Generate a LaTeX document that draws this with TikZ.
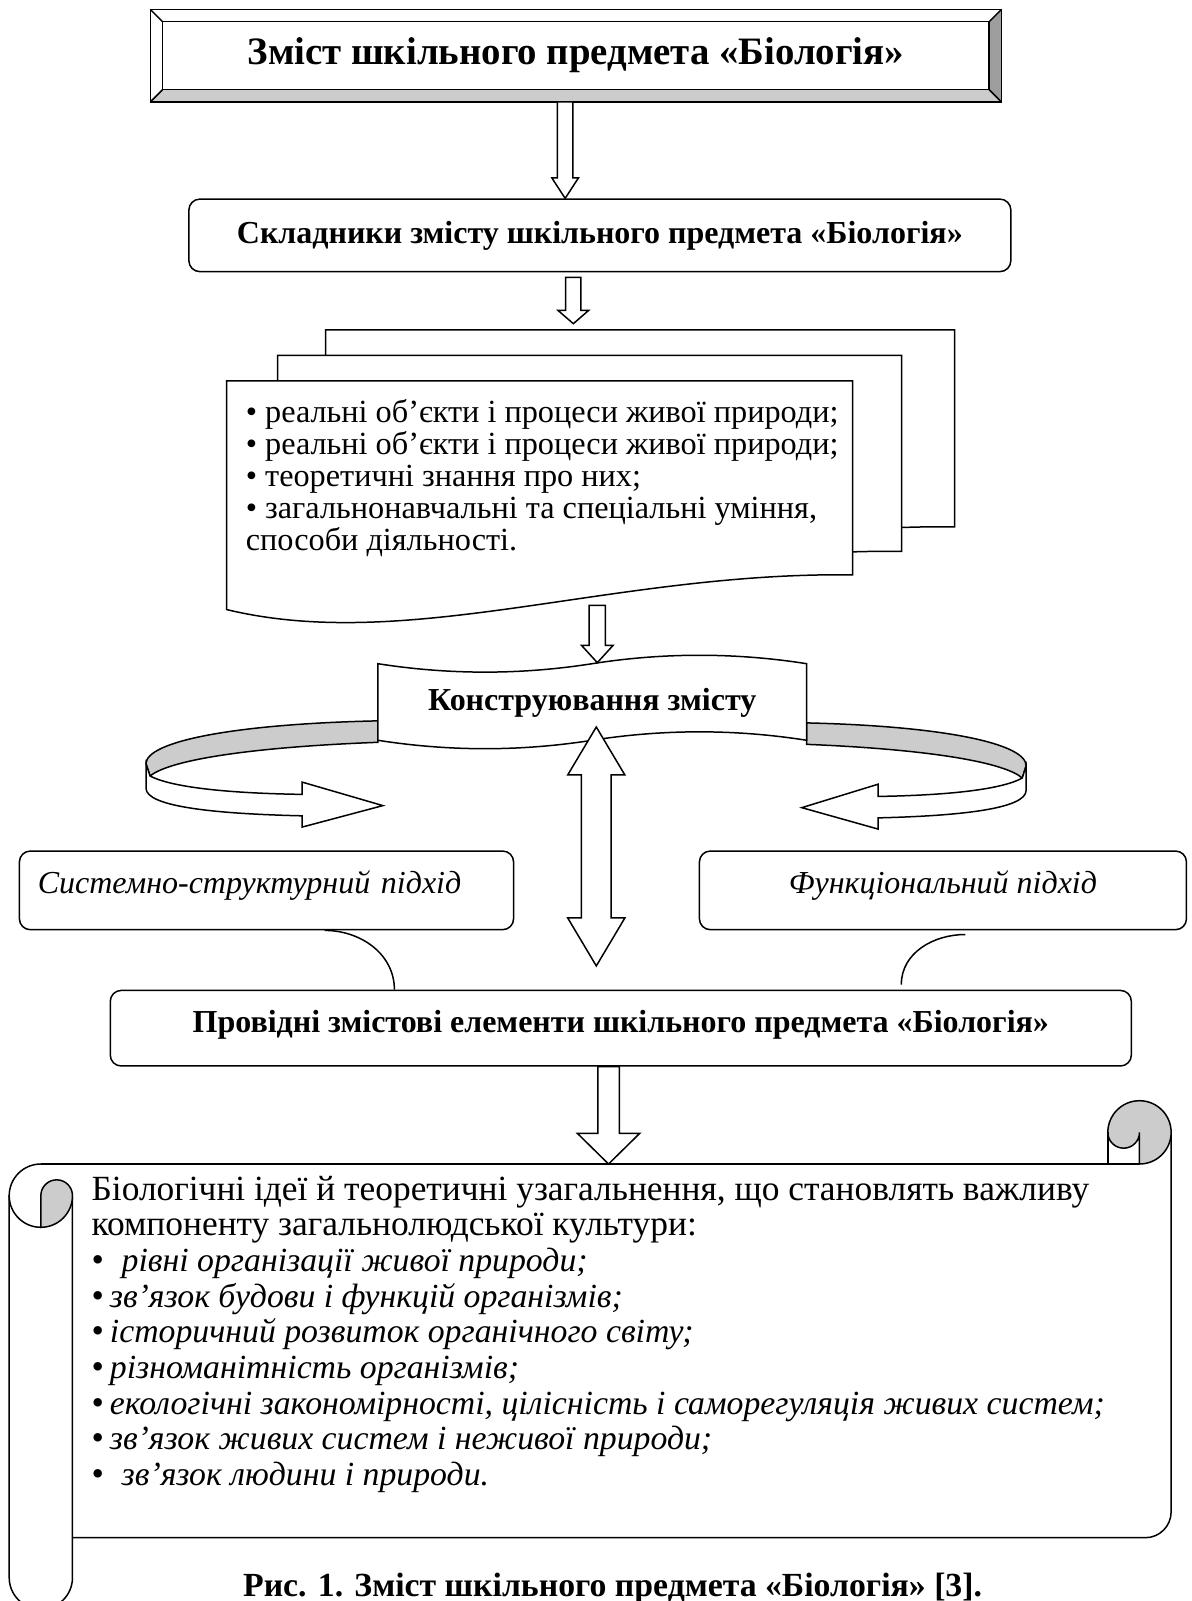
\documentclass[tikz,border=0pt]{standalone}
\usepackage{fontspec}
\setmainfont{Liberation Serif}
\usetikzlibrary{calc}

\definecolor{curlgray}{gray}{0.8}
\definecolor{bevelgray}{gray}{0.62}

% hollow block arrow pointing down: from, tip, shaft half width, head half width, head length
\newcommand{\hollowdown}[5]{%
  \draw[fill=white] ($(#1)+(-#3,0)$) -- ($(#1)+(#3,0)$) -- ($(#2)+(#3,-#5)$) -- ($(#2)+(#4,-#5)$) -- (#2)
    -- ($(#2)+(-#4,-#5)$) -- ($(#2)+(-#3,-#5)$) -- cycle;}
% hollow block arrow with two heads: upper tip, lower tip, ...
\newcommand{\hollowboth}[5]{%
  \draw[fill=white] (#1) -- ($(#1)+(#4,#5)$) -- ($(#1)+(#3,#5)$) -- ($(#2)+(#3,-#5)$) -- ($(#2)+(#4,-#5)$) -- (#2)
    -- ($(#2)+(-#4,-#5)$) -- ($(#2)+(-#3,-#5)$) -- ($(#1)+(-#3,#5)$) -- ($(#1)+(-#4,#5)$) -- cycle;}
% curved ribbon arrow on the left of the tape
\newcommand{\sideribbon}{%
  \filldraw[fill=curlgray] (370,706) .. controls (230,709) and (143,726) .. (143,748)
    -- (147,760) .. controls (165,745) and (240,732) .. (370,727) -- cycle;
  \draw[fill=white] (143,748) -- (147,760) .. controls (170,772) and (230,777) .. (296,778) -- (296,766) -- (375,789)
    -- (296,810) -- (296,799) .. controls (210,797) and (143,790) .. (143,772) -- cycle;}
% italic item of the scroll
\newcommand{\idea}[1]{\textit{\fontsize{24.8}{26}\selectfont #1}}

\begin{document}
\begin{tikzpicture}[x=0.75pt, y=-0.75pt, line width=1.1pt,
  headfont/.style={font=\bfseries\fontsize{23.5}{27}\selectfont},
  listfont/.style={font=\fontsize{23.7}{23.5}\selectfont},
  slantfont/.style={font=\itshape\fontsize{23.5}{26}\selectfont},
  roundbox/.style={draw, fill=white, rounded corners=8pt, inner sep=0pt}]
\useasboundingbox (0,0) rectangle (1167,1568);

% title with bevel
\node[font=\bfseries\fontsize{28.5}{32}\selectfont, minimum width=624pt, minimum height=66.75pt, inner sep=0pt] (title) at (564,54.5) {Зміст шкільного предмета «Біологія»};
\fill[curlgray] (title.south west) -- (title.south east) -- ($(title.south east)+(-12,-12)$) -- ($(title.south west)+(12,-12)$) -- cycle;
\fill[bevelgray] (title.north east) -- (title.south east) -- ($(title.south east)+(-12,-12)$) -- ($(title.north east)+(-12,12)$) -- cycle;
\draw (title.north west) rectangle (title.south east);
\draw ($(title.north west)+(12,12)$) rectangle ($(title.south east)+(-12,-12)$);
\draw (title.north west) -- ++(12,12);
\draw (title.north east) -- ++(-12,12);
\draw (title.south west) -- ++(12,-12);
\draw (title.south east) -- ++(-12,-12);

\node[roundbox, headfont, minimum width=603.75pt, minimum height=53.25pt] (comp) at (587.5,230.5) {Складники змісту шкільного предмета «Біологія»};

\coordinate (a1x) at (553.5,0);
\coordinate (a1s) at (a1x |- title.south);
\coordinate (a1e) at (a1x |- comp.north);
\hollowdown{a1s}{a1e}{7.5}{13}{20}

\coordinate (a2x) at (561.5,0);
\coordinate (a2s) at ($(a2x |- comp.south)+(0,5)$);
\coordinate (a2e) at (561.5,317);
\hollowdown{a2s}{a2e}{7.5}{15}{13}

% three sheets
\draw[fill=white] (319,323) -- (935,323) -- (935,516) .. controls (700,513) and (497,593) .. (319,550) -- cycle;
\draw[fill=white] (272,348) -- (883,348) -- (883,540) .. controls (648,537) and (448,617) .. (272,573) -- cycle;
\draw[fill=white] (222,373) -- (835,373) -- (835,563) .. controls (600,560) and (400,640) .. (222,597) -- cycle;
\node[listfont, align=left, anchor=north west, inner sep=0pt] (parts) at (240,390) {• реальні об’єкти і процеси живої природи;\\• реальні об’єкти і процеси живої природи;\\• теоретичні знання про них;\\• загальнонавчальні та спеціальні уміння,\\способи діяльності.};

% ribbons and tape
\sideribbon
\begin{scope}[shift={(1140.4,2)}, xscale=-0.947]
\sideribbon
\end{scope}
\draw[fill=white] (370,650) .. controls (440,661) and (510,661) .. (580,650) .. controls (650,639) and (720,639) .. (790,650)
  -- (790,725) .. controls (720,714) and (650,714) .. (580,725) .. controls (510,736) and (440,736) .. (370,725) -- cycle;
\node[headfont] (constr) at (580,688) {Конструювання змісту};

\coordinate (a3s) at (585,593);
\coordinate (a3e) at (585,649);
\hollowdown{a3s}{a3e}{8}{15.5}{17}

\node[roundbox, slantfont, minimum width=363pt, minimum height=57.75pt, text width=336pt, align=left, text height=15pt, text depth=10pt] (sys) at (261,872) {Системно-структурний підхід};
\node[roundbox, slantfont, minimum width=357.75pt, minimum height=57.75pt, align=center, text height=15pt, text depth=10pt] (func) at (923.5,872) {Функціональний підхід};
\node[roundbox, headfont, minimum width=750pt, minimum height=55.5pt, text height=16pt, text depth=10pt] (lead) at (608,1007) {Провідні змістові елементи шкільного предмета «Біологія»};

\coordinate (a5s) at (584,712);
\coordinate (a5e) at (584,946);
\hollowboth{a5s}{a5e}{14.5}{28}{47}

\draw ($(sys.south)+(57,0)$) to[out=0, in=90] ($(lead.north west)+(279,0)$);
\draw ($(func.south)+(22,4)$) to[out=180, in=90] ($(lead.north east)+(-226,-5)$);

% scroll
\fill[white] (71,1140) rectangle (1147,1506);
\draw (40,1140) -- (1116,1140);
\draw[rounded corners=19pt] (1147,1109) -- (1147,1506) -- (71,1506);
\draw (40,1140) arc[start angle=270, end angle=180, radius=31] -- (9,1545) arc[start angle=180, end angle=0, radius=31] -- (71,1171);
\draw (9,1171) arc[start angle=180, end angle=90, radius=31];
\filldraw[fill=curlgray] (40,1202) -- (40,1171) arc[start angle=180, end angle=360, radius=15.5] arc[start angle=0, end angle=90, radius=31] -- cycle;
\filldraw[fill=curlgray] (1085,1109) arc[start angle=180, end angle=360, radius=31] arc[start angle=0, end angle=90, radius=31] -- (1116,1109) arc[start angle=0, end angle=180, radius=15.5] -- cycle;
\draw (1085,1109) -- (1085,1140);

\coordinate (a4x) at (596,0);
\coordinate (a4s) at (a4x |- lead.south);
\coordinate (a4e) at (596,1140);
\hollowdown{a4s}{a4e}{10.5}{30.5}{30}

\node[align=left, anchor=north west, inner sep=0pt, font=\fontsize{26}{26.2}\selectfont] (ideas) at (89,1151) {Біологічні ідеї й теоретичні узагальнення, що становлять важливу\\компоненту загальнолюдської культури:\\•\ \ \idea{рівні організації живої природи;}\\•\,\idea{зв’язок будови і функцій організмів;}\\•\,\idea{історичний розвиток органічного світу;}\\•\,\idea{різноманітність організмів;}\\•\,\idea{екологічні закономірності, цілісність і саморегуляція живих систем;}\\•\,\idea{зв’язок живих систем і неживої природи;}\\•\ \ \idea{зв’язок людини і природи.}};

\node[font=\bfseries\fontsize{24.8}{28}\selectfont] (caption) at (600,1556) {Рис. 1. Зміст шкільного предмета «Біологія» [3].};
\end{tikzpicture}
\end{document}
